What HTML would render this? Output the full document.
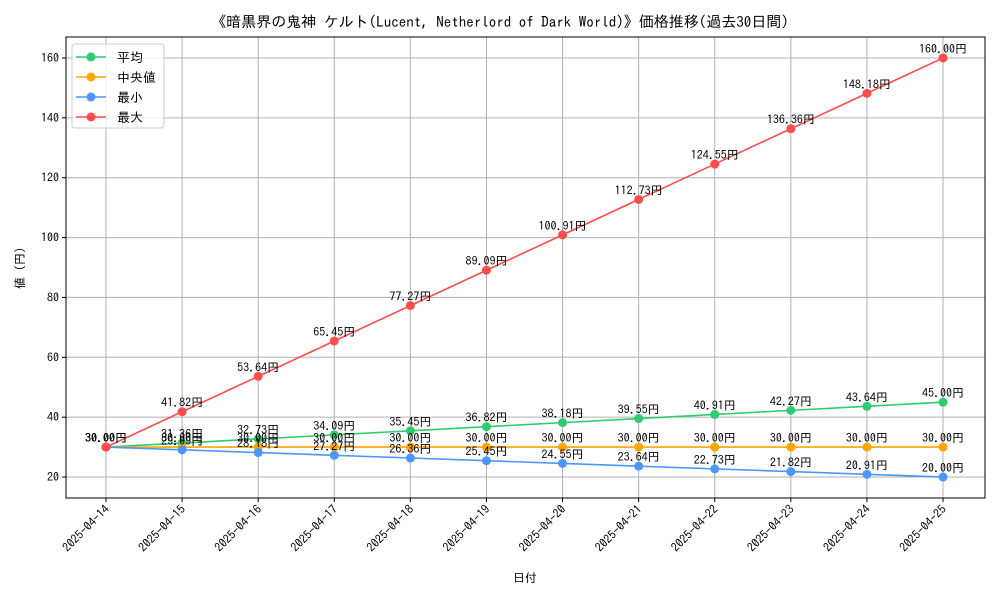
<!DOCTYPE html>
<html><head><meta charset="utf-8"><style>
body{margin:0;background:#fff}
svg text{font-family:"IPAGothic","Noto Sans CJK JP",sans-serif;fill:#000}
</style></head><body>
<svg id="c" width="1000" height="600" xmlns="http://www.w3.org/2000/svg"></svg>
<script>
const categories=["2025-04-14","2025-04-15","2025-04-16","2025-04-17","2025-04-18","2025-04-19","2025-04-20","2025-04-21","2025-04-22","2025-04-23","2025-04-24","2025-04-25"];
const meanVals=[30,31.36,32.73,34.09,35.45,36.82,38.18,39.55,40.91,42.27,43.64,45];
const medianVals=[30,30,30,30,30,30,30,30,30,30,30,30];
const minVals=[30,29.09,28.18,27.27,26.36,25.45,24.55,23.64,22.73,21.82,20.91,20];
const maxVals=[30,41.82,53.64,65.45,77.27,89.09,100.91,112.73,124.55,136.36,148.18,160];
const yTicks=[20,40,60,80,100,120,140,160];
const seriesNames=["平均","中央値","最小","最大"];

const NS="http://www.w3.org/2000/svg",svg=document.getElementById('c');
const L=66,R=985,T=37,B=498,yMin=13,yMax=167;
const x=i=>106+i*(943-106)/(categories.length-1);
const y=v=>B-(v-yMin)/(yMax-yMin)*(B-T);
function mk(tag,a,parent){const e=document.createElementNS(NS,tag);for(const k in a)e.setAttribute(k,a[k]);(parent||svg).appendChild(e);return e;}

let t=mk('text',{x:500,y:27,'text-anchor':'middle','font-size':15});


t.textContent="《暗黒界の鬼神 ケルト(Lucent, Netherlord of Dark World)》価格推移(過去30日間)";

categories.forEach((c,i)=>{
 const g=mk('line',{x1:x(i),x2:x(i),y1:T,y2:B,stroke:'#b0b0b0','stroke-width':1});
 
 
 mk('line',{x1:x(i),x2:x(i),y1:B,y2:B+4,stroke:'#000'});
 const l=mk('text',{x:0,y:0,'text-anchor':'end','font-size':12,transform:`translate(${x(i)+4},${B+12}) rotate(-45)`});
 
 
 l.textContent=c;
});
yTicks.forEach(v=>{
 const g=mk('line',{x1:L,x2:R,y1:y(v),y2:y(v),stroke:'#b0b0b0','stroke-width':1});
 
 
 mk('line',{x1:L-4,x2:L,y1:y(v),y2:y(v),stroke:'#000'});
 const l=mk('text',{x:L-7,y:y(v)+4,'text-anchor':'end','font-size':12});
 
 
 l.textContent=v;
});
const frame=mk('rect',{x:L,y:T,width:R-L,height:B-T,fill:'none',stroke:'#000','stroke-width':1});



const series=[[meanVals,'#2ecc71'],[medianVals,'#ffa500'],[minVals,'#4d96ff'],[maxVals,'#ff4d4d']];
series.forEach(([vals,col],si)=>{
 const p=mk('polyline',{points:vals.map((v,i)=>x(i)+','+y(v)).join(' '),fill:'none',stroke:col,'stroke-width':1.6});
 
 
 vals.forEach((v,i)=>{
  const d=mk('circle',{cx:x(i),cy:y(v),r:4.5,fill:col});
  
  
 });
});
series.forEach(([vals])=>{
 vals.forEach((v,i)=>{
  const l=mk('text',{x:x(i),y:y(v)-5,'text-anchor':'middle','font-size':12});
  
  
  l.textContent=v.toFixed(2)+"円";
 });
});

const xt=mk('text',{x:525,y:582,'text-anchor':'middle','font-size':12});


xt.textContent="日付";
const yt=mk('text',{x:0,y:0,'text-anchor':'middle','font-size':12,transform:'translate(24,268) rotate(-90)'});


yt.textContent="値 (円)";

const lg=mk('g',{});


mk('rect',{x:72,y:44,width:92,height:84,rx:3,fill:'#fff','fill-opacity':0.8,stroke:'#ccc'},lg);
series.forEach(([v,col],i)=>{
 const yy=57+i*20;
 const e=mk('g',{},lg);
 
 
 mk('line',{x1:76,x2:106,y1:yy,y2:yy,stroke:col,'stroke-width':1.6},e);
 mk('circle',{cx:91,cy:yy,r:4.5,fill:col},e);
 const tx=mk('text',{x:117,y:yy+5,'font-size':13},e);
 tx.textContent=seriesNames[i];
});
</script>
</body></html>
